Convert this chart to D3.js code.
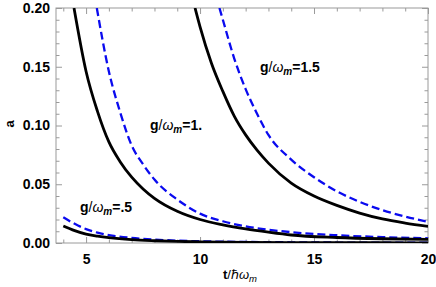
<!DOCTYPE html>
<html>
<head>
<meta charset="utf-8">
<script src="https://cdn.jsdelivr.net/npm/d3@7/dist/d3.min.js"></script>
<style>
  body { margin: 0; background: #fff; }
  text { font-family: "Liberation Sans", Arial, sans-serif; }
</style>
</head>
<body>
<div id="wrapper"></div>
<script>
// ---------- DATA -----------------------------------------------------------
// g/wm = .5
const tBlack05 = [4, 4.5, 5, 5.5, 6, 7, 8, 9, 10, 12, 14, 16, 18, 20];
const aBlack05 = [0.0145, 0.0105, 0.0075, 0.0058, 0.0045, 0.0028, 0.0019, 0.0013, 0.001, 0.0006, 0.0004, 0.0003, 0.0002, 0.00015];
const tBlue05 = [4, 4.5, 5, 5.5, 6, 7, 8, 9, 10, 12, 14, 16, 18, 20];
const aBlue05 = [0.0219, 0.0163, 0.0118, 0.0088, 0.0068, 0.0043, 0.0029, 0.002, 0.0015, 0.0009, 0.0006, 0.0004, 0.0003, 0.0002];
// g/wm = 1
const tBlack1 = [4.47, 5, 5.5, 6, 6.5, 7, 7.5, 8, 9, 10, 11, 12, 13, 14, 16, 18, 20];
const aBlack1 = [0.2, 0.146, 0.112, 0.086, 0.069, 0.056, 0.046, 0.038, 0.027, 0.02, 0.0155, 0.012, 0.0092, 0.0068, 0.0047, 0.0036, 0.003];
const tBlue1 = [5.47, 6, 6.5, 7, 7.5, 8, 9, 10, 11, 12, 13, 14, 16, 18, 20];
const aBlue1 = [0.2, 0.146, 0.111, 0.083, 0.067, 0.054, 0.037, 0.025, 0.0185, 0.0142, 0.0113, 0.0092, 0.0066, 0.005, 0.004];
// g/wm = 1.5
const tBlack15 = [9.78, 10, 10.5, 11, 11.5, 12, 12.5, 13, 14, 15, 16, 17, 18, 19, 20];
const aBlack15 = [0.2, 0.184, 0.153, 0.129, 0.108, 0.092, 0.079, 0.068, 0.051, 0.04, 0.032, 0.0255, 0.0205, 0.017, 0.0142];
const tBlue15 = [10.85, 11, 11.5, 12, 12.5, 13, 14, 15, 16, 17, 18, 19, 20];
const aBlue15 = [0.2, 0.19, 0.157, 0.131, 0.11, 0.092, 0.071, 0.056, 0.044, 0.035, 0.028, 0.0225, 0.018];

const xMajorTicks = [5, 10, 15, 20];
const xMinorTicks = [4, 6, 7, 8, 9, 11, 12, 13, 14, 16, 17, 18, 19];
const yMajorTicks = [0, 0.05, 0.1, 0.15, 0.2];
const yMinorTicks = [0.01, 0.02, 0.03, 0.04, 0.06, 0.07, 0.08, 0.09, 0.11, 0.12, 0.13, 0.14, 0.16, 0.17, 0.18, 0.19];

const labels = [
  { x: 260, y: 72, val: "1.5" },
  { x: 150, y: 130, val: "1." },
  { x: 80, y: 212, val: ".5" },
];

// ---------- DIMENSIONS --------------------------------------------------
let dimensions = {
  width: 436,
  height: 287,
  margin: { top: 8, right: 8, bottom: 44, left: 56 },
};
dimensions.boundedWidth = dimensions.width - dimensions.margin.left - dimensions.margin.right;
dimensions.boundedHeight = dimensions.height - dimensions.margin.top - dimensions.margin.bottom;

const svg = d3.select("#wrapper")
  .append("svg")
  .attr("width", dimensions.width)
  .attr("height", dimensions.height);

const bounds = svg.append("g")
  .attr("transform", `translate(${dimensions.margin.left},${dimensions.margin.top})`);

// ---------- SCALES ------------------------------------------------------
const xScale = d3.scaleLinear().domain([3.68, 20]).range([0, dimensions.boundedWidth]);
const yScale = d3.scaleLinear().domain([0, 0.2]).range([dimensions.boundedHeight, 0]);

// ---------- FRAME + TICKS (inward, mirrored) ----------------------------
const frameColor = "#9a9a9a";
const styleAxis = (g) => {
  g.select(".domain").remove();
  g.selectAll("line").attr("stroke", frameColor);
};
const tickText = (g) => g.selectAll("text")
  .attr("fill", "#000")
  .style("font-size", "14px")
  .style("font-weight", "bold");

// bottom
bounds.append("g").attr("transform", `translate(0,${dimensions.boundedHeight})`)
  .call(d3.axisBottom(xScale).tickValues(xMinorTicks).tickSize(-3.5).tickFormat(""))
  .call(styleAxis);
bounds.append("g").attr("transform", `translate(0,${dimensions.boundedHeight})`)
  .call(d3.axisBottom(xScale).tickValues(xMajorTicks).tickSize(-6).tickPadding(11).tickFormat(d3.format("d")))
  .call(styleAxis).call(tickText);
// top
bounds.append("g")
  .call(d3.axisTop(xScale).tickValues(xMinorTicks).tickSize(-3.5).tickFormat(""))
  .call(styleAxis);
bounds.append("g")
  .call(d3.axisTop(xScale).tickValues(xMajorTicks).tickSize(-6).tickFormat(""))
  .call(styleAxis);
// left
bounds.append("g")
  .call(d3.axisLeft(yScale).tickValues(yMinorTicks).tickSize(-3.5).tickFormat(""))
  .call(styleAxis);
bounds.append("g")
  .call(d3.axisLeft(yScale).tickValues(yMajorTicks).tickSize(-6).tickPadding(6).tickFormat(d3.format(".2f")))
  .call(styleAxis).call(tickText);
// right
bounds.append("g").attr("transform", `translate(${dimensions.boundedWidth},0)`)
  .call(d3.axisRight(yScale).tickValues(yMinorTicks).tickSize(-3.5).tickFormat(""))
  .call(styleAxis);
bounds.append("g").attr("transform", `translate(${dimensions.boundedWidth},0)`)
  .call(d3.axisRight(yScale).tickValues(yMajorTicks).tickSize(-6).tickFormat(""))
  .call(styleAxis);

bounds.append("rect")
  .attr("width", dimensions.boundedWidth)
  .attr("height", dimensions.boundedHeight)
  .attr("fill", "none")
  .attr("stroke", frameColor)
  .attr("stroke-width", 1);

// ---------- CURVES ------------------------------------------------------
bounds.append("clipPath").attr("id", "clip")
  .append("rect")
  .attr("width", dimensions.boundedWidth)
  .attr("height", dimensions.boundedHeight);

const lineGen = d3.line()
  .x((d) => xScale(d[0]))
  .y((d) => yScale(d[1]))
  .curve(d3.curveMonotoneX);

const series = [
  { t: tBlue05, a: aBlue05, color: "#0a0aef", dash: "8,4", w: 2.3 },
  { t: tBlue1, a: aBlue1, color: "#0a0aef", dash: "8,4", w: 2.3 },
  { t: tBlue15, a: aBlue15, color: "#0a0aef", dash: "8,4", w: 2.3 },
  { t: tBlack05, a: aBlack05, color: "#000", dash: null, w: 2.8 },
  { t: tBlack1, a: aBlack1, color: "#000", dash: null, w: 2.8 },
  { t: tBlack15, a: aBlack15, color: "#000", dash: null, w: 2.8 },
];

const curves = bounds.append("g").attr("clip-path", "url(#clip)");
series.forEach((s) => {
  curves.append("path")
    .datum(d3.zip(s.t, s.a))
    .attr("d", lineGen)
    .attr("fill", "none")
    .attr("stroke", s.color)
    .attr("stroke-width", s.w)
    .attr("stroke-dasharray", s.dash);
});

// ---------- LABELS ------------------------------------------------------
labels.forEach((l) => {
  const txt = svg.append("text")
    .attr("x", l.x)
    .attr("y", l.y)
    .style("font-size", "14px")
    .style("font-weight", "bold");
  txt.append("tspan").text("g");
  txt.append("tspan").style("font-weight", "normal").text("/");
  txt.append("tspan").style("font-style", "italic").style("font-weight", "normal").text("ω");
  txt.append("tspan").style("font-style", "italic").style("font-size", "10px").attr("dy", 3).text("m");
  txt.append("tspan").attr("dy", -3).text("=" + l.val);
});

// axis titles
const xTitle = svg.append("text")
  .attr("x", 240)
  .attr("y", 279)
  .attr("text-anchor", "middle")
  .style("font-size", "13px");
xTitle.append("tspan").style("font-weight", "bold").text("t");
xTitle.append("tspan").text("/ℏ");
xTitle.append("tspan").style("font-style", "italic").text("ω");
xTitle.append("tspan").style("font-style", "italic").style("font-size", "9.5px").attr("dy", 3).text("m");

svg.append("text")
  .attr("transform", "translate(14,124) rotate(-90)")
  .attr("text-anchor", "middle")
  .style("font-size", "13px")
  .style("font-weight", "bold")
  .text("a");
</script>
</body>
</html>
